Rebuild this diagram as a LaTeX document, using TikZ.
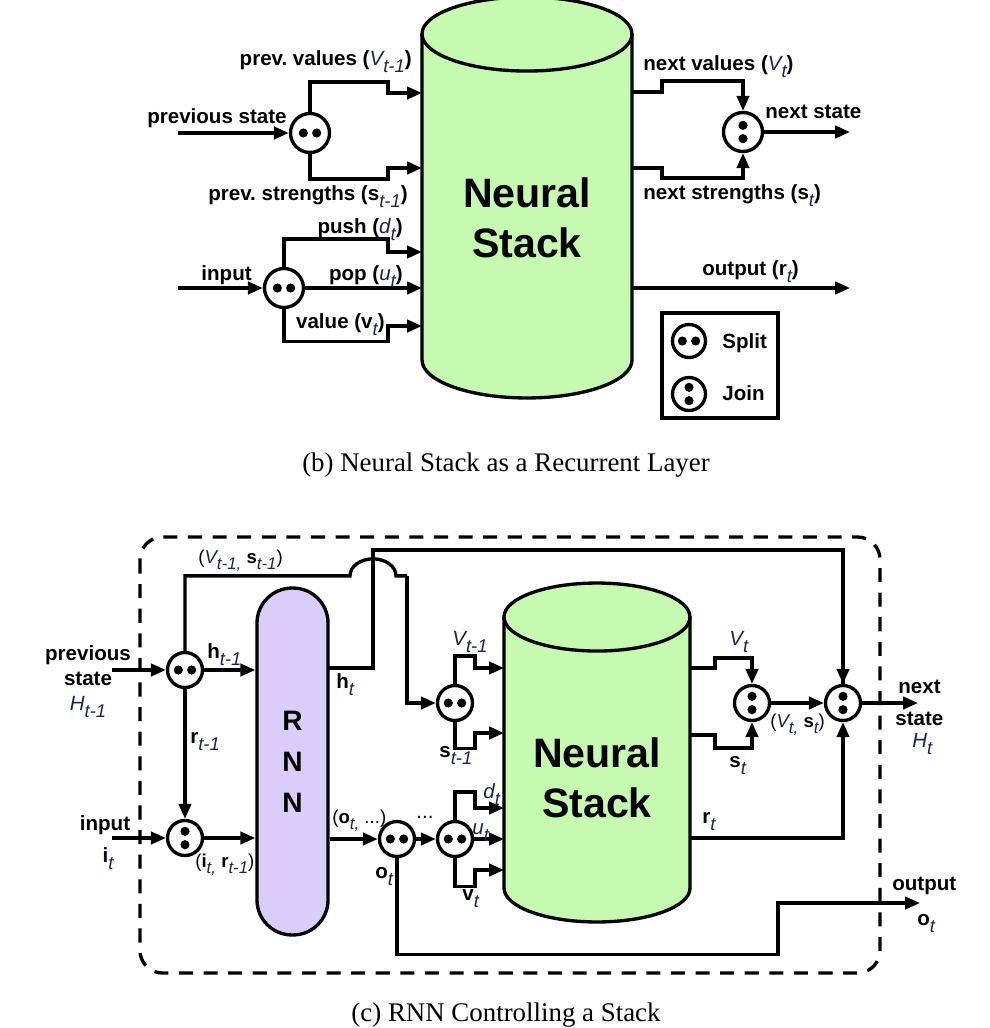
\documentclass[tikz,border=0pt]{standalone}
\usepackage{fontspec}
\setmainfont{Liberation Sans}
\newfontfamily\capfont{Liberation Serif}
\usetikzlibrary{arrows.meta,backgrounds}

\definecolor{stackgreen}{RGB}{197,250,176}
\definecolor{rnnpurple}{RGB}{219,205,250}
\definecolor{varblue}{RGB}{30,36,80}

\newcommand{\var}[1]{\textcolor{varblue}{\mdseries\itshape #1}}
\newcommand{\sbt}[1]{\raisebox{-0.7ex}{\fontsize{10.5}{11}\selectfont\var{#1}}}
\newcommand{\ssbt}[1]{\raisebox{-0.7ex}{\fontsize{9.6}{10}\selectfont\var{#1}}}

\begin{document}
\begin{tikzpicture}[x=0.02cm, y=0.02cm]
\tikzset{
	wire/.style = {line width=1.9pt},
	arr/.style = {wire, -{Triangle[length=8.5pt, width=7pt]}},
	splitnode/.style = {
		draw, circle, line width=1.9pt, fill=white,
		minimum size=0.78cm, inner sep=0pt,
		path picture={
			\fill [black] ([xshift=-3.8pt]path picture bounding box.center) circle (2.6pt)
			      ([xshift=3.8pt]path picture bounding box.center) circle (2.6pt);
		}
	},
	joinnode/.style = {
		draw, circle, line width=1.9pt, fill=white,
		minimum size=0.78cm, inner sep=0pt,
		path picture={
			\fill [black] ([yshift=-3.8pt]path picture bounding box.center) circle (2.6pt)
			      ([yshift=3.8pt]path picture bounding box.center) circle (2.6pt);
		}
	},
	bot/.style = {minimum size=0.7cm},
	legicon/.style = {minimum size=0.66cm},
	stackbody/.style = {inner sep=0pt, outer sep=0pt},
	cyl/.style = {wire, fill=stackgreen},
	stacklab/.style = {
		font=\fontsize{23.4}{28.5}\selectfont\bfseries, align=center
	},
	rnnbox/.style = {
		draw, line width=1.9pt, fill=rnnpurple,
		minimum width=1.42cm, minimum height=6.94cm,
		rounded corners=0.7cm, align=center,
		font=\fontsize{16}{23.3}\selectfont\bfseries
	},
	lab/.style = {font=\fontsize{11.7}{14}\selectfont\bfseries\frenchspacing, inner sep=0pt},
	slab/.style = {font=\fontsize{10.6}{13}\selectfont\bfseries, inner sep=0pt},
	captext/.style = {font=\capfont\fontsize{15.3}{18}\selectfont, inner sep=0pt},
	dashframe/.style = {wire, dash pattern=on 8pt off 6pt, rounded corners=0.45cm},
}

\useasboundingbox (0,0) rectangle (990,-1028);

% (b) stack as a layer
\node [stackbody, minimum width=4.2cm, minimum height=6.52cm] (stk1) at (527,-197) {};
\node [stacklab] (stk1lab) at (527,-218) {Neural\\Stack};

\begin{pgfonlayer}{background}
\filldraw [cyl] (stk1.north west) -- (stk1.south west)
	arc [start angle=180, end angle=360, x radius=105, y radius=38]
	-- (stk1.north east)
	arc [start angle=0, end angle=180, x radius=105, y radius=37] -- cycle;
\draw [wire] (stk1.north west) arc [start angle=180, end angle=360, x radius=105, y radius=37];
\end{pgfonlayer}

\node [splitnode] (sp1) at (310,-133) {};
\node [splitnode] (sp2) at (284,-288) {};
\node [joinnode] (jn0) at (743,-132) {};

\coordinate (pst1) at (178,-133);
\coordinate (inp1) at (178,-288);
\coordinate (pvin) at (422,-93);
\coordinate (psin) at (422,-168);
\coordinate (pushin) at (422,-252);
\coordinate (popin) at (422,-288);
\coordinate (valin) at (422,-326);
\coordinate (nvout) at (632,-92);
\coordinate (nsout) at (632,-168);
\coordinate (rout1) at (632,-288);
\coordinate (nsend) at (850,-132);
\coordinate (outend) at (850,-288);

\draw [arr] (pst1) -- (sp1);
\draw [arr] (sp1.north) |- ++(78,30) |- (pvin);
\draw [arr] (sp1.south) |- ++(78,-25) |- (psin);
\draw [arr] (inp1) -- (sp2);
\draw [arr] (sp2.north) |- ++(104,28) |- (pushin);
\draw [arr] (sp2) -- (popin);
\draw [arr] (sp2.south) |- ++(104,-32) |- (valin);
\draw [arr] (nvout) -| ++(30,11) -| (jn0.north);
\draw [arr] (nsout) -| ++(30,-10) -| (jn0.south);
\draw [arr] (jn0) -- (nsend);
\draw [arr] (rout1) -- (outend);

\node [lab, anchor=base east] (lpv) at (412,-65) {prev. values (\var{V}\sbt{t-1})};
\node [lab, anchor=base east] (lprev) at (287,-123) {previous state};
\node [lab, anchor=base east] (lps) at (408,-200) {prev. strengths (s\sbt{t-1})};
\node [lab, anchor=base east] (lpush) at (403,-233) {push (\var{d}\sbt{t})};
\node [lab, anchor=base east] (linp) at (252,-280) {input};
\node [lab, anchor=base east] (lpop) at (403,-280) {pop (\var{u}\sbt{t})};
\node [lab, anchor=base east] (lval) at (385,-328) {value (v\sbt{t})};
\node [lab, anchor=base west] (lnv) at (643,-70) {next values (\var{V}\sbt{t})};
\node [lab, anchor=base west] (lnext) at (765,-118) {next state};
\node [lab, anchor=base west] (lnst) at (643,-199) {next strengths (s\sbt{t})};
\node [lab, anchor=base west] (lout) at (702,-275) {output (r\sbt{t})};

% legend
\node [draw, wire, minimum width=2.32cm, minimum height=2.1cm] (leg) at (720,-365.5) {};
\node [splitnode, legicon] (legs) at (689,-341) {};
\node [joinnode, legicon] (legj) at (689,-394) {};
\node [lab, anchor=base west] (lsplit) at (722,-348) {Split};
\node [lab, anchor=base west] (ljoin) at (722,-400) {Join};

\node [captext, anchor=base] (capb) at (506,-471) {(b) Neural Stack as a Recurrent Layer};

% (c) rnn with stack
\draw [dashframe] (140,-537) rectangle (880,-973);

\node [stackbody, minimum width=3.72cm, minimum height=5.42cm] (stk2) at (597,-752.5) {};
\node [stacklab] (stk2lab) at (597,-778) {Neural\\Stack};

\begin{pgfonlayer}{background}
\filldraw [cyl] (stk2.north west) -- (stk2.south west)
	arc [start angle=180, end angle=360, x radius=93, y radius=34]
	-- (stk2.north east)
	arc [start angle=0, end angle=180, x radius=93, y radius=34] -- cycle;
\draw [wire] (stk2.north west) arc [start angle=180, end angle=360, x radius=93, y radius=34];
\end{pgfonlayer}

\node [rnnbox] (rnn) at (292.5,-761.5) {R\\N\\N};

\node [splitnode, bot] (sp3) at (185,-670) {};
\node [joinnode, bot] (jn1) at (185,-838) {};
\node [splitnode, bot] (sp4) at (455,-703) {};
\node [splitnode, bot] (sp5) at (397,-839) {};
\node [splitnode, bot] (sp6) at (455,-839) {};
\node [joinnode, bot] (jn3) at (752,-703) {};
\node [joinnode, bot] (jn4) at (843,-703) {};

\coordinate (pst2) at (112,-670);
\coordinate (inp2) at (112,-838);
\coordinate (htout) at (328,-668);
\coordinate (vin) at (504,-668);
\coordinate (sin) at (504,-733);
\coordinate (din) at (504,-808);
\coordinate (uin) at (504,-839);
\coordinate (vvin) at (504,-870);
\coordinate (vout) at (690,-668);
\coordinate (sout) at (690,-735);
\coordinate (rout2) at (690,-838);
\coordinate (hend) at (918,-703);
\coordinate (oend) at (920,-903);

\draw [arr] (pst2) -- (sp3);
\draw [arr] (sp3) -- (sp3 -| rnn.west);
\draw [arr] (sp3) -- (jn1);
\draw [arr] (inp2) -- (jn1);
\draw [arr] (jn1) -- (jn1 -| rnn.west);
\draw [wire] (sp3.north) |- ++(165,75)
	arc [start angle=180, end angle=0, x radius=23, y radius=17]
	-- ++(11,0);
\draw [arr] (sp3.north) ++(222,75) |- (sp4);
\draw [wire] (htout) -| ++(45,118) -| (jn4.north);
\draw [arr] (jn4.north) ++(0,135) -- (jn4.north);
\draw [arr] (sp4.north) |- ++(20,28) |- (vin);
\draw [arr] (sp4.south) |- ++(20,-26) |- (sin);
\draw [arr] (sp5 -| rnn.east) -- (sp5);
\draw [arr] (sp5) -- (sp6);
\draw [arr] (sp6.north) |- ++(20,28) |- (din);
\draw [arr] (sp6) -- (uin);
\draw [arr] (sp6.south) |- ++(20,-28) |- (vvin);
\draw [arr] (sp5.south) |- ++(381,-96) |- (oend);
\draw [arr] (vout) -| ++(25,10) -| (jn3.north);
\draw [arr] (sout) -| ++(25,-13) -| (jn3.south);
\draw [arr] (jn3) -- (jn4);
\draw [arr] (rout2) -| (jn4.south);
\draw [arr] (jn4) -- (hend);

\node [slab, anchor=base west] (lvs) at (198,-563) {{\mdseries(}\var{V}\ssbt{t-1,} s\ssbt{t-1}{\mdseries)}};
\node [lab, anchor=base] (lprev2) at (88,-660) {previous};
\node [lab, anchor=base] (lstate2) at (88,-685) {state};
\node [lab, anchor=base] (lH1) at (88,-710) {\var{H}\sbt{t-1}};
\node [lab, anchor=base west] (lh1) at (207,-658) {h\sbt{t-1}};
\node [lab, anchor=base west] (lr1) at (190,-743) {r\sbt{t-1}};
\node [lab, anchor=base] (linp2) at (105,-830) {input};
\node [lab, anchor=base] (li) at (108,-862) {i\sbt{t}};
\node [slab, anchor=base west] (lir) at (195,-867) {{\mdseries(}i\ssbt{t,} r\ssbt{t-1}{\mdseries)}};
\node [lab, anchor=base west] (lht) at (336,-688) {h\sbt{t}};
\node [slab, anchor=base west] (lo1) at (332,-823) {{\mdseries(}o\ssbt{t,} {\mdseries...)}};
\node [lab, anchor=base west] (lot) at (375,-878) {o\sbt{t}};
\node [lab, anchor=base] (ldots) at (425,-818) {\mdseries...};
\node [lab, anchor=base west] (lV1) at (452,-645) {\var{V}\sbt{t-1}};
\node [lab, anchor=base west] (ls1) at (439,-757) {s\sbt{t-1}};
\node [lab, anchor=base west] (ld) at (483,-798) {\var{d}\sbt{t}};
\node [lab, anchor=base west] (lu) at (472,-834) {\var{u}\sbt{t}};
\node [lab, anchor=base west] (lv) at (462,-900) {v\sbt{t}};
\node [lab, anchor=base west] (lVt) at (729,-645) {\var{V}\sbt{t}};
\node [lab, anchor=base west] (lst) at (729,-767) {s\sbt{t}};
\node [slab, anchor=base west] (lVs) at (770,-727) {{\mdseries(}\var{V}\ssbt{t,} s\ssbt{t}{\mdseries)}};
\node [lab, anchor=base west] (lrt) at (702,-823) {r\sbt{t}};
\node [lab, anchor=base west] (lnext2) at (898,-693) {next};
\node [lab, anchor=base west] (lstate3) at (895,-725) {state};
\node [lab, anchor=base west] (lHt) at (912,-747) {\var{H}\sbt{t}};
\node [lab, anchor=base west] (lout2) at (892,-890) {output};
\node [lab, anchor=base west] (lot2) at (917,-925) {o\sbt{t}};

\node [captext, anchor=base] (capc) at (506,-1021) {(c) RNN Controlling a Stack};

\end{tikzpicture}
\end{document}
